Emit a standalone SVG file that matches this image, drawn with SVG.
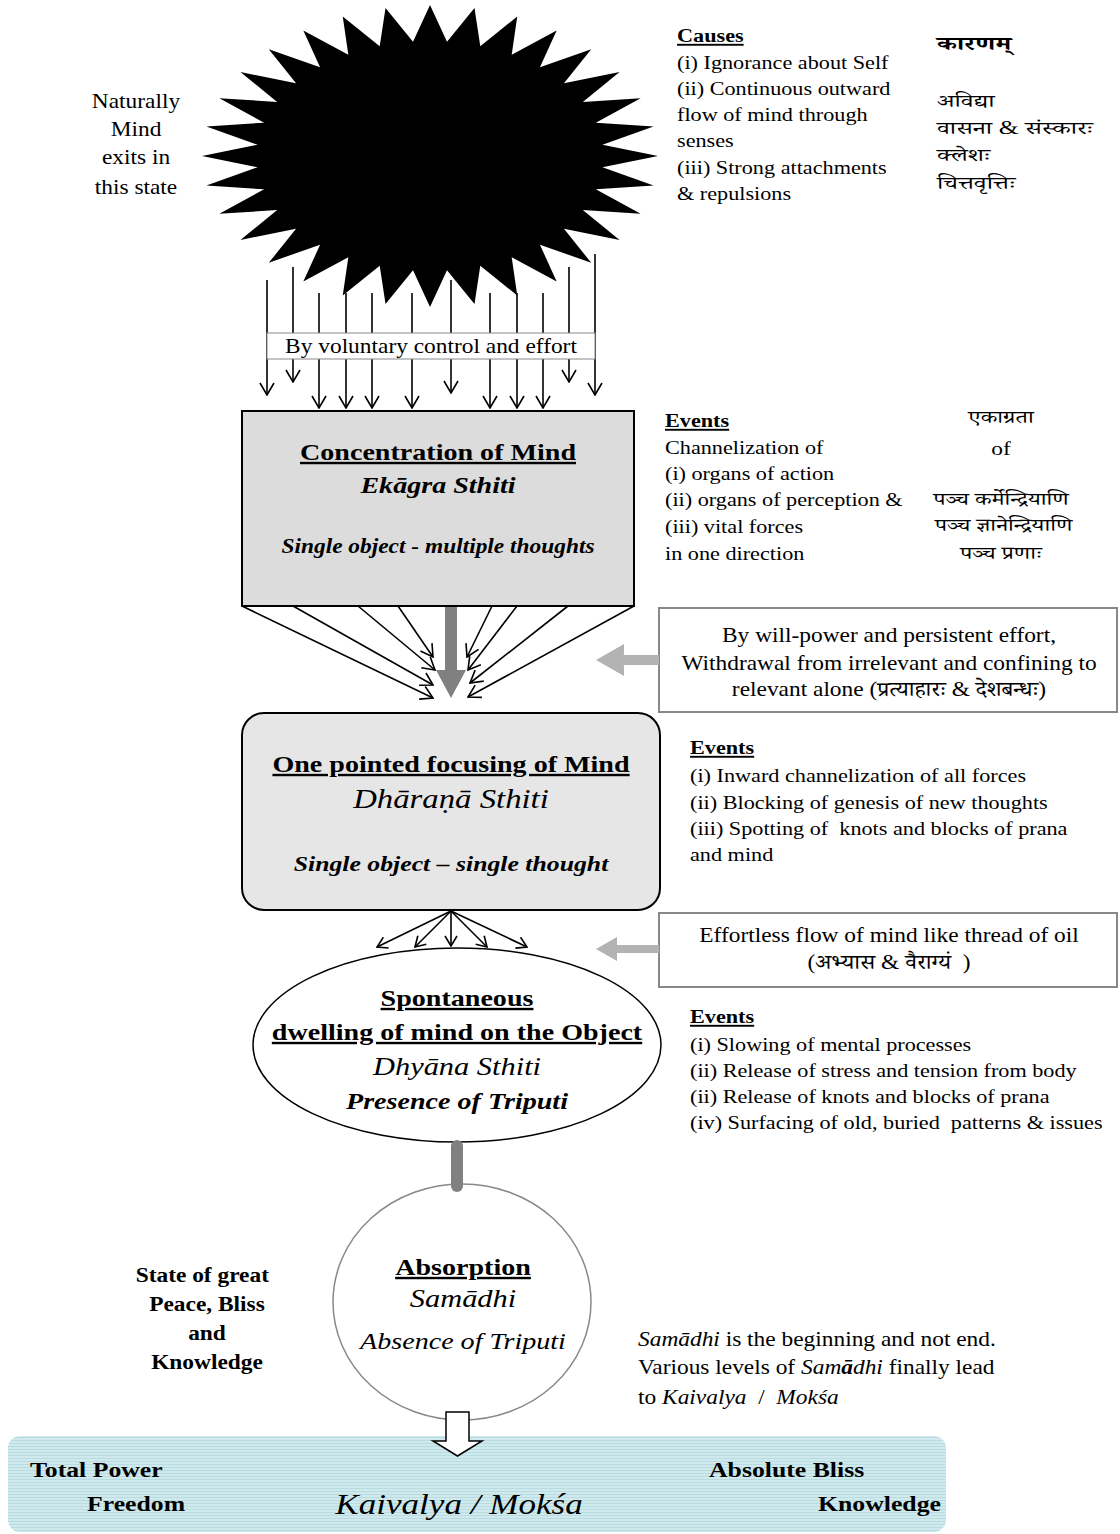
<svg xmlns="http://www.w3.org/2000/svg" width="1120" height="1534" viewBox="0 0 1120 1534">
  <style>
    .t { font-family: "Liberation Serif", "Times New Roman", serif; fill: #000; }
    .b { font-weight: bold; }
    .i { font-style: italic; }
    .u { text-decoration: underline; }
    .dv { font-family: "Noto Serif Devanagari", "Noto Sans Devanagari", "Lohit Devanagari", "Mangal", "Liberation Serif", serif; }
    .s18 { font-size: 18px; }
    .s19 { font-size: 19px; }
    .s20 { font-size: 20px; }
    .s22 { font-size: 22px; }
    .s24 { font-size: 24px; }
    .s26 { font-size: 26px; }
    .mid { text-anchor: middle; }
    .line { stroke: #000; stroke-width: 1.6; fill: none; }
    .hint { fill: #b3b3b3; }
    .bar { fill: #808080; }
    .note { fill: #fff; stroke: #888; stroke-width: 2; }
  </style>
  <defs>
    <marker id="vee" viewBox="0 0 14 16" refX="13" refY="8" markerWidth="14" markerHeight="16" orient="auto" markerUnits="userSpaceOnUse">
      <path d="M1,1 L13,8 L1,15" fill="none" stroke="#000" stroke-width="1.6"/>
    </marker>
    <marker id="vee-s" viewBox="0 0 12 14" refX="11" refY="7" markerWidth="12" markerHeight="14" orient="auto" markerUnits="userSpaceOnUse">
      <path d="M1,1 L11,7 L1,13" fill="none" stroke="#000" stroke-width="1.6"/>
    </marker>
    <pattern id="stripes" width="4" height="3" patternUnits="userSpaceOnUse">
      <rect width="4" height="3" fill="#cfe9ec"/>
      <rect width="4" height="1" fill="#b8dce1"/>
    </pattern>
  </defs>

  <rect width="1120" height="1534" fill="#fff"/>

  <!-- final state band -->
  <g id="node-kaivalya">
    <rect x="8" y="1436" width="938" height="96" rx="12" fill="url(#stripes)"/>
    <g transform="translate(30 0) scale(1.17 1)"><text class="t b s22" x="0" y="1477">Total Power</text></g>
    <g transform="translate(87 0) scale(1.17 1)"><text class="t b s22" x="0" y="1511">Freedom</text></g>
    <g transform="translate(459 0) scale(1.17 1)"><text class="t i mid" style="font-size:30px" x="0" y="1514">Kaivalya / Mokśa</text></g>
    <g transform="translate(709 0) scale(1.17 1)"><text class="t b s22" x="0" y="1477">Absolute Bliss</text></g>
    <g transform="translate(818 0) scale(1.17 1)"><text class="t b s22" x="0" y="1511">Knowledge</text></g>
  </g>

  <!-- absorption -->
  <g id="node-samadhi">
    <ellipse cx="462" cy="1302" rx="129" ry="118" fill="#fff" stroke="#888" stroke-width="1.5"/>
    <g transform="translate(463 0) scale(1.17 1)">
      <text class="t b u s24 mid" x="0" y="1275">Absorption</text>
      <text class="t i s26 mid" x="0" y="1307">Samādhi</text>
      <text class="t i s24 mid" x="0" y="1349">Absence of Triputi</text>
    </g>
  </g>

  <g id="note-peace" transform="translate(207 0) scale(1.17 1)">
    <text class="t b s20 mid" x="-4" y="1282">State of great</text>
    <text class="t b s20 mid" x="0" y="1311">Peace, Bliss</text>
    <text class="t b s20 mid" x="0" y="1340">and</text>
    <text class="t b s20 mid" x="0" y="1369">Knowledge</text>
  </g>

  <g id="note-samadhi" transform="translate(638 0) scale(1.17 1)">
    <text class="t s20" x="0" y="1346"><tspan class="i">Samādhi</tspan> is the beginning and not end.</text>
    <text class="t s20" x="0" y="1374">Various levels of <tspan class="i">Sam</tspan><tspan class="i b">ā</tspan><tspan class="i">dhi</tspan> finally lead</text>
    <text class="t s20" x="0" y="1404">to <tspan class="i">Kaivalya</tspan>&#160; /&#160; <tspan class="i">Mokśa</tspan></text>
  </g>

  <!-- meditation -->
  <g id="node-dhyana">
    <ellipse cx="457" cy="1045" rx="204" ry="97" fill="#fff" stroke="#000" stroke-width="1.5"/>
    <g transform="translate(457 0) scale(1.17 1)">
      <text class="t b u s24 mid" x="0" y="1006">Spontaneous</text>
      <text class="t b u s24 mid" x="0" y="1040">dwelling of mind on the Object</text>
      <text class="t i s26 mid" x="0" y="1075">Dhyāna Sthiti</text>
      <text class="t b i s24 mid" x="0" y="1109">Presence of Triputi</text>
    </g>
  </g>

  <g id="events-dhyana" transform="translate(690 0) scale(1.17 1)">
    <text class="t b u s19" x="0" y="1023">Events</text>
    <text class="t s19" x="0" y="1051">(i) Slowing of mental processes</text>
    <text class="t s19" x="0" y="1077">(ii) Release of stress and tension from body</text>
    <text class="t s19" x="0" y="1103">(ii) Release of knots and blocks of prana</text>
    <text class="t s19" x="0" y="1129">(iv) Surfacing of old, buried&#160; patterns &amp; issues</text>
  </g>

  <!-- one pointed focusing -->
  <g id="node-dharana">
    <rect x="242" y="713" width="418" height="197" rx="22" fill="#e6e6e6" stroke="#000" stroke-width="2"/>
    <g transform="translate(451 0) scale(1.17 1)">
      <text class="t b u s24 mid" x="0" y="772">One pointed focusing of Mind</text>
      <text class="t i mid" style="font-size:28px" x="0" y="808">Dhāraṇā Sthiti</text>
      <text class="t b i s22 mid" x="0" y="871">Single object – single thought</text>
    </g>
  </g>

  <g id="events-dharana" transform="translate(690 0) scale(1.17 1)">
    <text class="t b u s19" x="0" y="754">Events</text>
    <text class="t s19" x="0" y="782">(i) Inward channelization of all forces</text>
    <text class="t s19" x="0" y="809">(ii) Blocking of genesis of new thoughts</text>
    <text class="t s19" x="0" y="835">(iii) Spotting of&#160; knots and blocks of prana</text>
    <text class="t s19" x="0" y="861">and mind</text>
  </g>

  <g id="node-effortless">
    <rect class="note" x="659" y="913" width="458" height="74"/>
    <g transform="translate(889 0) scale(1.17 1)">
      <text class="t s20 mid" x="0" y="942">Effortless flow of mind like thread of oil</text>
      <text class="t s20 mid" x="0" y="969">(<tspan class="dv">अभ्यास</tspan> &amp; <tspan class="dv">वैराग्यं</tspan>&#160;&#160;)</text>
    </g>
  </g>

  <!-- concentration -->
  <g id="node-ekagra">
    <rect x="242" y="411" width="392" height="195" fill="#dcdcdc" stroke="#000" stroke-width="2"/>
    <g transform="translate(438 0) scale(1.17 1)">
      <text class="t b u s24 mid" x="0" y="460">Concentration of Mind</text>
      <text class="t b i s24 mid" x="0" y="493">Ekāgra Sthiti</text>
      <text class="t b i s20 mid" x="0" y="553">Single object - multiple thoughts</text>
    </g>
  </g>

  <g id="events-ekagra" transform="translate(665 0) scale(1.17 1)">
    <text class="t b u s19" x="0" y="427">Events</text>
    <text class="t s19" x="0" y="454">Channelization of</text>
    <text class="t s19" x="0" y="480">(i) organs of action</text>
    <text class="t s19" x="0" y="506">(ii) organs of perception &amp;</text>
    <text class="t s19" x="0" y="533">(iii) vital forces</text>
    <text class="t s19" x="0" y="560">in one direction</text>
  </g>

  <g id="note-ekagrata" transform="translate(1001 0) scale(1.3 1)">
    <text class="t dv s18 mid" x="0" y="423">एकाग्रता</text>
    <text class="t s18 mid" x="0" y="455">of</text>
    <text class="t dv s18 mid" x="0" y="505">पञ्च कर्मेन्द्रियाणि</text>
    <text class="t dv s18 mid" x="2" y="531">पञ्च ज्ञानेन्द्रियाणि</text>
    <text class="t dv s18 mid" x="0" y="559">पञ्च प्रणाः</text>
  </g>

  <g id="node-withdrawal">
    <rect class="note" x="659" y="608" width="458" height="104"/>
    <g transform="translate(889 0) scale(1.17 1)">
      <text class="t s20 mid" x="0" y="642">By will-power and persistent effort,</text>
      <text class="t s20 mid" x="0" y="670">Withdrawal from irrelevant and confining to</text>
      <text class="t s20 mid" x="0" y="696">relevant alone (<tspan class="dv">प्रत्याहारः</tspan> &amp; <tspan class="dv">देशबन्धः</tspan>)</text>
    </g>
  </g>

  <!-- causes -->
  <g id="note-naturally" transform="translate(136 0) scale(1.17 1)">
    <text class="t s20 mid" x="0" y="108">Naturally</text>
    <text class="t s20 mid" x="0" y="136">Mind</text>
    <text class="t s20 mid" x="0" y="164">exits in</text>
    <text class="t s20 mid" x="0" y="194">this state</text>
  </g>

  <g id="note-causes" transform="translate(677 0) scale(1.17 1)">
    <text class="t b u s19" x="0" y="42">Causes</text>
    <text class="t s19" x="0" y="69">(i) Ignorance about Self</text>
    <text class="t s19" x="0" y="95">(ii) Continuous outward</text>
    <text class="t s19" x="0" y="121">flow of mind through</text>
    <text class="t s19" x="0" y="147">senses</text>
    <text class="t s19" x="0" y="174">(iii) Strong attachments</text>
    <text class="t s19" x="0" y="200">&amp; repulsions</text>
  </g>

  <g id="note-karanam" transform="translate(937 0) scale(1.42 1)">
    <text class="t dv b" style="font-size:19px" x="0" y="50">कारणम्</text>
    <text class="t dv s18" x="0" y="107">अविद्या</text>
    <text class="t dv s18" x="0" y="134">वासना <tspan class="t">&amp;</tspan> संस्कारः</text>
    <text class="t dv s18" x="0" y="161">क्लेशः</text>
    <text class="t dv s18" x="0" y="189">चित्तवृत्तिः</text>
  </g>

  <!-- connectors -->
  <g id="connectors">
    <!-- outflow of the restless mind, brought down by effort -->
    <line class="line" x1="267" y1="280" x2="267" y2="395" marker-end="url(#vee)"/>
    <line class="line" x1="293" y1="267" x2="293" y2="382" marker-end="url(#vee)"/>
    <line class="line" x1="319" y1="293" x2="319" y2="408" marker-end="url(#vee)"/>
    <line class="line" x1="346" y1="293" x2="346" y2="408" marker-end="url(#vee)"/>
    <line class="line" x1="372" y1="293" x2="372" y2="408" marker-end="url(#vee)"/>
    <line class="line" x1="412" y1="293" x2="412" y2="408" marker-end="url(#vee)"/>
    <line class="line" x1="451" y1="280" x2="451" y2="393" marker-end="url(#vee)"/>
    <line class="line" x1="490" y1="293" x2="490" y2="408" marker-end="url(#vee)"/>
    <line class="line" x1="517" y1="293" x2="517" y2="408" marker-end="url(#vee)"/>
    <line class="line" x1="543" y1="293" x2="543" y2="408" marker-end="url(#vee)"/>
    <line class="line" x1="569" y1="267" x2="569" y2="382" marker-end="url(#vee)"/>
    <line class="line" x1="595" y1="254" x2="595" y2="395" marker-end="url(#vee)"/>

    <!-- convergence into one point -->
    <line class="line" x1="242" y1="606" x2="433" y2="698" marker-end="url(#vee)"/>
    <line class="line" x1="293" y1="606" x2="433" y2="685" marker-end="url(#vee)"/>
    <line class="line" x1="358" y1="606" x2="435" y2="670" marker-end="url(#vee)"/>
    <line class="line" x1="398" y1="606" x2="433" y2="657" marker-end="url(#vee)"/>
    <line class="line" x1="492" y1="606" x2="467" y2="657" marker-end="url(#vee)"/>
    <line class="line" x1="517" y1="606" x2="468" y2="670" marker-end="url(#vee)"/>
    <line class="line" x1="568" y1="606" x2="470" y2="683" marker-end="url(#vee)"/>
    <line class="line" x1="634" y1="606" x2="468" y2="697" marker-end="url(#vee)"/>
    <polygon class="bar" points="445,607 457,607 457,670 466,670 451,698 436,670 445,670"/>

    <!-- spread from a single thought -->
    <line class="line" x1="451" y1="911" x2="377" y2="947" marker-end="url(#vee-s)"/>
    <line class="line" x1="451" y1="911" x2="415" y2="947" marker-end="url(#vee-s)"/>
    <line class="line" x1="451" y1="911" x2="451" y2="946" marker-end="url(#vee-s)"/>
    <line class="line" x1="451" y1="911" x2="487" y2="947" marker-end="url(#vee-s)"/>
    <line class="line" x1="451" y1="911" x2="527" y2="947" marker-end="url(#vee-s)"/>

    <!-- side hints -->
    <polygon class="hint" points="659,655 624,655 624,644 596,660 624,676 624,665 659,665"/>
    <polygon class="hint" points="659,945 617,945 617,937 596,949 617,961 617,953 659,953"/>

    <!-- meditation deepens into absorption -->
    <line x1="457" y1="1146" x2="457" y2="1186" stroke="#808080" stroke-width="12" stroke-linecap="round"/>

    <!-- absorption opens into liberation -->
    <polygon points="446,1412 469,1412 469,1441 482,1441 457.5,1456 433,1441 446,1441" fill="#fff" stroke="#000" stroke-width="1.5"/>
  </g>

  <!-- the restless mind -->
  <g id="node-restless">
    <polygon transform="translate(430 156) scale(228 151)" fill="#000" points="1,0 0.7563,0.0745 0.9808,0.1951 0.7273,0.2206 0.9239,0.3827 0.6703,0.3583 0.8315,0.5556 0.5875,0.4821 0.7071,0.7071 0.4821,0.5875 0.5556,0.8315 0.3583,0.6703 0.3827,0.9239 0.2206,0.7273 0.1951,0.9808 0.0745,0.7563 0,1 -0.0745,0.7563 -0.1951,0.9808 -0.2206,0.7273 -0.3827,0.9239 -0.3583,0.6703 -0.5556,0.8315 -0.4821,0.5875 -0.7071,0.7071 -0.5875,0.4821 -0.8315,0.5556 -0.6703,0.3583 -0.9239,0.3827 -0.7273,0.2206 -0.9808,0.1951 -0.7563,0.0745 -1,0 -0.7563,-0.0745 -0.9808,-0.1951 -0.7273,-0.2206 -0.9239,-0.3827 -0.6703,-0.3583 -0.8315,-0.5556 -0.5875,-0.4821 -0.7071,-0.7071 -0.4821,-0.5875 -0.5556,-0.8315 -0.3583,-0.6703 -0.3827,-0.9239 -0.2206,-0.7273 -0.1951,-0.9808 -0.0745,-0.7563 0,-1 0.0745,-0.7563 0.1951,-0.9808 0.2206,-0.7273 0.3827,-0.9239 0.3583,-0.6703 0.5556,-0.8315 0.4821,-0.5875 0.7071,-0.7071 0.5875,-0.4821 0.8315,-0.5556 0.6703,-0.3583 0.9239,-0.3827 0.7273,-0.2206 0.9808,-0.1951 0.7563,-0.0745"/>
  </g>

  <g id="label-voluntary">
    <rect x="267" y="333" width="328" height="26" fill="#fff" stroke="#888" stroke-width="1"/>
    <g transform="translate(431 0) scale(1.17 1)">
      <text class="t s20 mid" x="0" y="353">By voluntary control and effort</text>
    </g>
  </g>
</svg>
